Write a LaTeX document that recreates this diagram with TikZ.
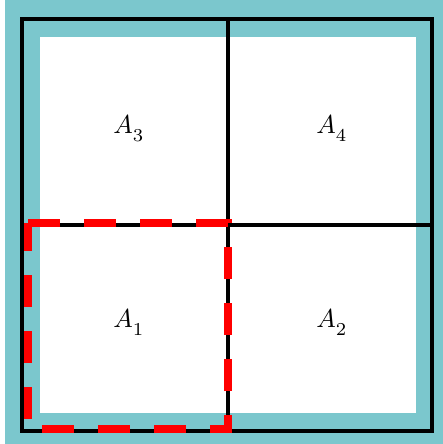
\documentclass[tikz,border=0pt]{standalone}
\usepackage{graphicx}
\usepackage{amsmath,amssymb}
\usepackage{tikz}
\usetikzlibrary{positioning}
\definecolor{rim}{RGB}{123,199,205}
\newcommand{\arealabel}[2]{\scalebox{2.6}{$#1_{\raisebox{-1.5pt}{$\scriptstyle #2$}}$}}
\tikzset{
	grid line/.style = {draw=black, line width=4pt},
	region/.style = {red, line width=8pt, dash pattern=on 32pt off 24pt, dash phase=4pt},
	area label/.style = {inner sep=0pt},
}

\begin{document}
\begin{tikzpicture}[x=1pt,y=-1pt]
	\useasboundingbox (0,0) rectangle (443,444);
	% frame
	\fill[rim] (5,0) rectangle (443,444);
	\fill[white] (40,37) rectangle (416,413);
	% grid
	\coordinate (NW) at (22,19.5);
	\coordinate (SE) at (432,430.5);
	\coordinate (N) at (228,19.5);
	\coordinate (S) at (228,430.5);
	\coordinate (W) at (22,224.5);
	\coordinate (E) at (432,224.5);
	\draw[grid line] (NW) rectangle (SE);
	\draw[grid line] (N) -- (S);
	\draw[grid line] (W) -- (E);
	% labels
	\node[area label] (A3) at (129,129) {\arealabel{A}{3}};
	\node[area label] (A4) at (332,129) {\arealabel{A}{4}};
	\node[area label] (A1) at (129,323) {\arealabel{A}{1}};
	\node[area label] (A2) at (332,323) {\arealabel{A}{2}};
	% dashed region
	\draw[region] (28,223) -- (28,429) -- (228,429) -- (228,223) -- cycle;
\end{tikzpicture}
\end{document}
